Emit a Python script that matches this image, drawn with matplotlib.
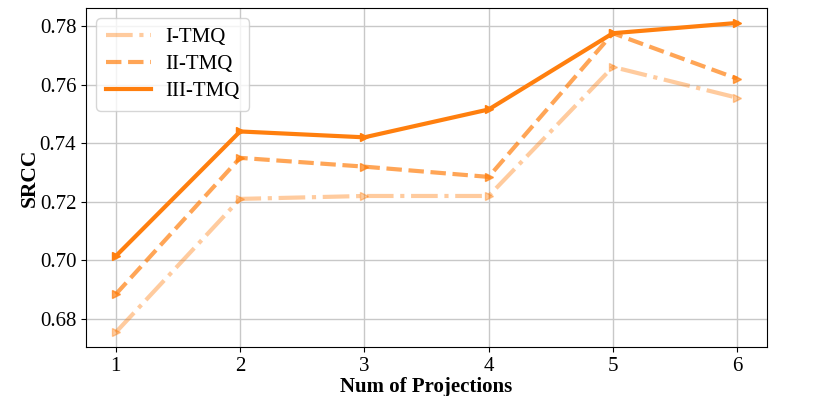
import numpy as np
import matplotlib.pyplot as plt

plt.rcParams['font.family'] = ['Liberation Serif', 'DejaVu Serif']

x = [1, 2, 3, 4, 5, 6]
i_tmq = [0.6755, 0.721, 0.722, 0.722, 0.766, 0.7555]
ii_tmq = [0.6885, 0.735, 0.732, 0.7285, 0.7775, 0.762]
iii_tmq = [0.7015, 0.744, 0.742, 0.7515, 0.7775, 0.781]

fig = plt.figure(figsize=(8.31, 3.96), dpi=100)
ax = fig.add_axes([86/831, 1-347/396, 681/831, 339/396])

ax.plot(x, i_tmq, linestyle='-.', color='#ff7f0e', alpha=0.4, lw=3, marker='>', ms=6, label='I-TMQ')
ax.plot(x, ii_tmq, linestyle='--', color='#ff7f0e', alpha=0.7, lw=3, marker='>', ms=6, label='II-TMQ')
ax.plot(x, iii_tmq, linestyle='-', color='#ff7f0e', alpha=1.0, lw=3, marker='>', ms=6, label='III-TMQ')

ax.set_xlim(0.76, 6.24)
ax.set_ylim(0.6705, 0.7861)
ax.set_xticks(x)
ax.set_yticks([0.68, 0.70, 0.72, 0.74, 0.76, 0.78])
ax.tick_params(labelsize=15)
ax.grid(True, color='#c8c8c8', lw=1)
ax.set_axisbelow(True)
ax.set_xlabel('Num of Projections', fontsize=15, fontweight='bold', labelpad=1)
ax.set_ylabel('SRCC', fontsize=15.5, fontweight='bold', labelpad=0)
leg = ax.legend(loc='upper left', fontsize=15, handlelength=2.15, handletextpad=0.7,
                borderpad=0.45, labelspacing=0.35)
for ln in leg.get_lines():
    ln.set_marker('None')

fig.savefig('out.png', dpi=100)
